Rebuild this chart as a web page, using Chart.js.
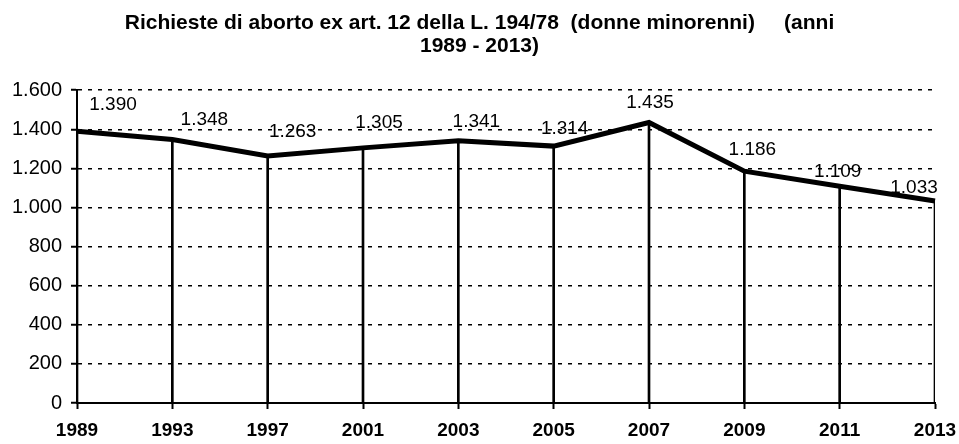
<!DOCTYPE html>
<html>
<head>
  <meta charset="UTF-8">
  <title>Richieste di aborto ex art. 12 (donne minorenni)</title>
  <script src="https://cdn.jsdelivr.net/npm/chart.js"></script>
  <style>
    html, body { margin: 0; padding: 0; background: #fff; }
    #wrap { width: 959px; height: 444px; }
  </style>
</head>
<body>
  <div id="wrap"><canvas id="chart"></canvas></div>

  <script>
    // Anni e richieste (donne minorenni)
    const years = ['1989', '1993', '1997', '2001', '2003', '2005', '2007', '2009', '2011', '2013'];
    const requests = [1390, 1348, 1263, 1305, 1341, 1314, 1435, 1186, 1109, 1033];
    const titleLines = ['Richieste di aborto ex art. 12 della L. 194/78  (donne minorenni)     (anni', '1989 - 2013)'];

    // where each value label sits relative to its point (px)
    const labelOffsets = [[36, -26], [32, -20], [25, -24], [16, -25], [18, -19], [11, -17], [1, -20], [8, -21], [-2, -14], [-21, -13]];

    // 1600 -> "1.600"
    const fmt = v => String(v).replace(/\B(?=(\d{3})+(?!\d))/g, '.');

    const valueLabels = {
      id: 'valueLabels',
      afterDatasetsDraw(chart) {
        const meta = chart.getDatasetMeta(0);
        const ctx = chart.ctx;
        ctx.save();
        ctx.font = '19px "Liberation Sans", Arial, sans-serif';
        ctx.fillStyle = '#000';
        ctx.textAlign = 'center';
        ctx.textBaseline = 'middle';
        meta.data.forEach((pt, i) => {
          const [dx, dy] = labelOffsets[i];
          ctx.fillText(fmt(requests[i]), pt.x + dx, pt.y + dy);
        });
        ctx.restore();
      }
    };

    const ctx = document.getElementById('chart').getContext('2d');
    new Chart(ctx, {
      type: 'line',
      data: {
        labels: years,
        datasets: [{
          type: 'line',
          data: requests,
          borderColor: '#000',
          borderWidth: 5,
          pointRadius: 0,
          tension: 0,
          order: 0
        }, {
          // drop lines from each point to the axis
          type: 'bar',
          data: requests,
          backgroundColor: '#000',
          barThickness: 2,
          order: 1
        }]
      },
      options: {
        responsive: true,
        maintainAspectRatio: false,
        animation: false,
        layout: { padding: 0 },
        plugins: {
          legend: { display: false },
          tooltip: { enabled: false },
          title: {
            display: true,
            text: titleLines,
            color: '#000',
            font: { family: '"Liberation Sans", Arial, sans-serif', size: 21, weight: 'bold', lineHeight: 1.1 },
            padding: { top: 12, bottom: 32 }
          }
        },
        scales: {
          x: {
            offset: false,
            grid: { display: true, drawOnChartArea: false, offset: false, tickLength: 6, tickColor: '#000', tickWidth: 2 },
            border: { display: true, color: '#000', width: 2 },
            ticks: {
              color: '#000',
              padding: 10,
              maxRotation: 0,
              font: { family: '"Liberation Sans", Arial, sans-serif', size: 19, weight: 'bold' }
            },
            afterFit: s => { s.height = 41; s.paddingRight = 24; }
          },
          y: {
            min: 0,
            max: 1600,
            ticks: {
              stepSize: 200,
              color: '#000',
              padding: 9,
              font: { family: '"Liberation Sans", Arial, sans-serif', size: 20 },
              callback: v => fmt(v)
            },
            grid: { color: '#000', lineWidth: 1.5, tickLength: 6, tickColor: '#000', tickWidth: 2 },
            border: { display: true, color: '#000', width: 2, dash: [4, 6] },
            afterFit: s => { s.width = 77; }
          }
        }
      },
      plugins: [valueLabels]
    });
  </script>
</body>
</html>
